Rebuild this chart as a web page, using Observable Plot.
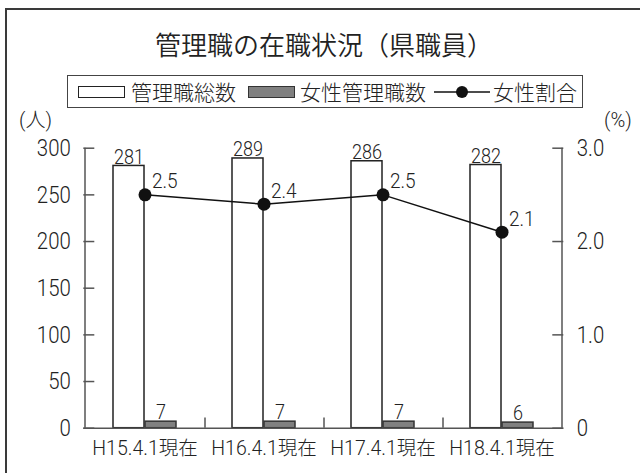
<!DOCTYPE html>
<html>
<head>
<meta charset="utf-8">
<script src="https://cdn.jsdelivr.net/npm/d3@7"></script>
<script src="https://cdn.jsdelivr.net/npm/@observablehq/plot@0.6"></script>
<style>
  html, body { margin: 0; padding: 0; background: #fff; }
  body { width: 640px; height: 473px; overflow: hidden; position: relative;
         font-family: "Noto Sans CJK JP", sans-serif; font-weight: 300; color: #222; }
  #frame { position: absolute; left: 5px; top: 8px; width: 700px; height: 600px;
           border: 2px solid #3a3a3a; box-sizing: border-box; }
  #chart { position: absolute; left: 0; top: 0; }
  .abs { position: absolute; white-space: nowrap; line-height: 1; }
  #title { left: 0; width: 648px; text-align: center; top: 31px; font-size: 26px; font-weight: 350; color: #222; }
  #legend { left: 67px; top: 75px; width: 516px; height: 33px; border: 1.5px solid #444;
            box-sizing: border-box; }
  .lg { font-size: 21px; top: 81px; color: #222; }
  .sw { position: absolute; top: 86px; width: 47px; height: 12px; box-sizing: border-box; }
  .unit { font-size: 20px; top: 110px; font-family: Roboto, "Noto Sans CJK JP", sans-serif; }
</style>
</head>
<body>
<div id="frame"></div>
<div id="chart"></div>
<div id="title" class="abs">管理職の在職状況（県職員）</div>
<div id="legend" class="abs"></div>
<div class="sw" style="left:78px;background:#fff;border:1.5px solid #222;"></div>
<div class="abs lg" style="left:131px;">管理職総数</div>
<div class="sw" style="left:248px;background:#808080;border:1.5px solid #333;"></div>
<div class="abs lg" style="left:300px;">女性管理職数</div>
<svg class="abs" style="left:432px;top:84px;" width="60" height="16">
  <line x1="2" y1="8" x2="58" y2="8" stroke="#111" stroke-width="1.5"></line>
  <circle cx="30" cy="8" r="6" fill="#111"></circle>
</svg>
<div class="abs lg" style="left:493px;">女性割合</div>
<div class="abs unit" style="left:19px;">(人)</div>
<div class="abs unit" style="left:604px;">(%)</div>
<script>
const categories = ["H15.4.1現在", "H16.4.1現在", "H17.4.1現在", "H18.4.1現在"];
const totalManagers = [281, 289, 286, 282];
const femaleManagers = [7, 7, 7, 6];
const femaleRatio = [2.5, 2.4, 2.5, 2.1];
const leftTicks = [0, 50, 100, 150, 200, 250, 300];
const rightTicks = [0, 1, 2, 3];
const rightTickLabels = ["0", "1.0", "2.0", "3.0"];

const rightScale = leftTicks[leftTicks.length - 1] / rightTicks[rightTicks.length - 1];
const rows = categories.map((c, i) => ({
  cat: c, total: totalManagers[i], female: femaleManagers[i], pct: femaleRatio[i]
}));
const rightRows = rightTicks.map((t, i) => ({ v: t * rightScale, label: rightTickLabels[i] }));

const numFont = "Roboto, 'Noto Sans CJK JP', sans-serif";
const axisColor = "#555";

const chart = Plot.plot({
  width: 640,
  height: 473,
  marginLeft: 83.3,
  marginRight: 76.7,
  marginTop: 147.7,
  marginBottom: 45.3,
  x: { type: "band", domain: categories, padding: 0, axis: null },
  y: { domain: [0, 300], axis: null },
  style: { fontFamily: numFont, fontWeight: 300, background: "transparent", overflow: "visible", color: "#222" },
  marks: [
    Plot.barY(rows, { x: "cat", y: "total", fill: "white", stroke: "#222", strokeWidth: 1.5, insetLeft: 28, insetRight: 60 }),
    Plot.barY(rows, { x: "cat", y: "female", fill: "#808080", stroke: "#333", strokeWidth: 1.5, insetLeft: 60, insetRight: 28 }),
    Plot.ruleY([0], { stroke: axisColor, strokeWidth: 1.5 }),
    Plot.ruleX([categories[0]], { dx: -60, y1: 0, y2: 300, stroke: axisColor, strokeWidth: 1.5 }),
    Plot.ruleX([categories[categories.length - 1]], { dx: 60, y1: 0, y2: 300, stroke: axisColor, strokeWidth: 1.5 }),
    Plot.ruleY(leftTicks, { y: d => d, insetRight: 469, stroke: axisColor, strokeWidth: 1.5 }),
    Plot.ruleY(rightRows, { y: "v", insetLeft: 469, stroke: axisColor, strokeWidth: 1.5 }),
    Plot.ruleX(categories.slice(0, -1), { dx: 60, y1: 0, y2: 11, stroke: axisColor, strokeWidth: 1.5 }),
    Plot.text(leftTicks, { y: d => d, text: d => String(d), frameAnchor: "left", dx: -13, textAnchor: "end", fontSize: 24, fill: "#222" }),
    Plot.text(rightRows, { y: "v", text: "label", frameAnchor: "right", dx: 13, textAnchor: "start", fontSize: 24, fill: "#222" }),
    Plot.text(rows, { x: "cat", text: "cat", frameAnchor: "bottom", dy: 27, fontSize: 19.5, fill: "#222" }),
    Plot.text(rows, { x: "cat", y: "total", text: d => String(d.total), dx: -16, dy: -2, lineAnchor: "bottom", fontSize: 20, fill: "#222" }),
    Plot.text(rows, { x: "cat", y: "female", text: d => String(d.female), dx: 16, dy: -3, lineAnchor: "bottom", fontSize: 20, fill: "#222" }),
    Plot.line(rows, { x: "cat", y: d => d.pct * rightScale, stroke: "#111", strokeWidth: 1.5 }),
    Plot.dot(rows, { x: "cat", y: d => d.pct * rightScale, r: 6.5, fill: "#111", stroke: "none" }),
    Plot.text(rows, { x: "cat", y: d => d.pct * rightScale, text: d => d.pct.toFixed(1), dx: 7, dy: -13, textAnchor: "start", fontSize: 20, fill: "#222" })
  ]
});
document.getElementById("chart").appendChild(chart);

// Narrow the digit glyphs to match the condensed face of the reference
const groups = chart.querySelectorAll("g[aria-label='text']");
const factors = [0.85, 0.85, null, 0.9, 0.9, 0.95];
groups.forEach((g, gi) => {
  const f = factors[gi];
  if (!f) return;
  g.querySelectorAll("text").forEach(t => {
    const L = t.getComputedTextLength();
    t.setAttribute("textLength", (L * f).toFixed(2));
    t.setAttribute("lengthAdjust", "spacingAndGlyphs");
  });
});
</script>
</body>
</html>
